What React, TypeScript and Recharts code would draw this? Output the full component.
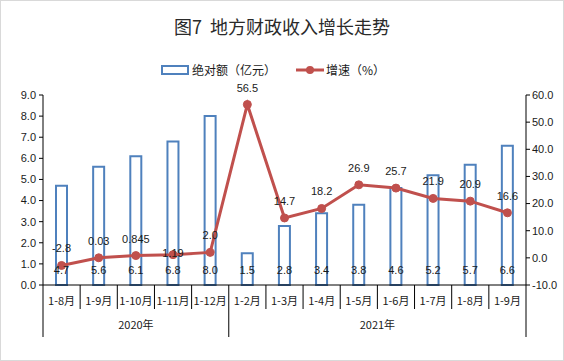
import { ComposedChart, Bar, Line, XAxis, YAxis, LabelList } from "recharts";

const months = ["1-8月", "1-9月", "1-10月", "1-11月", "1-12月", "1-2月", "1-3月", "1-4月", "1-5月", "1-6月", "1-7月", "1-8月", "1-9月"];
const amount = [4.7, 5.6, 6.1, 6.8, 8.0, 1.5, 2.8, 3.4, 3.8, 4.6, 5.2, 5.7, 6.6];
const growth = [-2.8, 0.03, 0.845, 1.19, 2.0, 56.5, 14.7, 18.2, 26.9, 25.7, 21.9, 20.9, 16.6];
const growthLabels = ["-2.8", "0.03", "0.845", "1.19", "2.0", "56.5", "14.7", "18.2", "26.9", "25.7", "21.9", "20.9", "16.6"];
const leftTicks = [0, 1, 2, 3, 4, 5, 6, 7, 8, 9];
const rightTicks = [-10, 0, 10, 20, 30, 40, 50, 60];
const years = ["2020年", "2021年"];

const data = months.map((m, i) => ({ name: `${m}#${i}`, month: m, amount: amount[i], growth: growth[i] }));

const W = 564;
const H = 361;
const LEFT = 43;
const RIGHT = 38;
const BAND = (W - LEFT - RIGHT) / months.length;
const BLUE = "#4F81BD";
const RED = "#C0504D";
const TEXT = "#1a1a1a";
const FONT = "'Liberation Sans', 'Noto Sans CJK SC', sans-serif";
const CJK = "'Noto Sans CJK SC', sans-serif";

const MonthTick = ({ x, y, payload, index }: any) => {
  const i = payload?.index ?? index;
  const left = x - BAND / 2;
  const right = x + BAND / 2;
  return (
    <g>
      <line x1={left} y1={y} x2={left} y2={i === 0 || i === 5 ? y + 52 : y + 24} stroke="#000" />
      {i === months.length - 1 && <line x1={right} y1={y} x2={right} y2={y + 52} stroke="#000" />}
      <text x={x} y={y + 20} textAnchor="middle" fontSize={11} fill={TEXT} fontFamily={CJK}>
        {months[i]}
      </text>
      {i === 2 && (
        <text x={x} y={y + 44} textAnchor="middle" fontSize={11} fill={TEXT} fontFamily={CJK}>
          {years[0]}
        </text>
      )}
      {i === 8 && (
        <text x={right} y={y + 44} textAnchor="middle" fontSize={11} fill={TEXT} fontFamily={CJK}>
          {years[1]}
        </text>
      )}
    </g>
  );
};

const BarValue = ({ x, y, width, height, value }: any) => (
  <text x={x + width / 2} y={y + height - 15} textAnchor="middle" dominantBaseline="central" fontSize={11} fill={TEXT} fontFamily={FONT}>
    {Number(value).toFixed(1)}
  </text>
);

const GrowthValue = ({ x, y, index }: any) => (
  <text x={x} y={index === 3 ? y - 2 : y - 17} textAnchor="middle" dominantBaseline="central" fontSize={11} fill={TEXT} fontFamily={FONT}>
    {growthLabels[index]}
  </text>
);

export default function App() {
  return (
    <div
      style={{
        position: "fixed",
        left: 0,
        top: 0,
        width: W,
        height: H,
        boxSizing: "border-box",
        border: "1px solid #D9D9D9",
        background: "#fff",
        fontFamily: CJK,
      }}
    >
      <div style={{ position: "absolute", top: 12, left: 0, width: W - 2, textAlign: "center", fontSize: 18, color: "#2a2a2a", lineHeight: "26px" }}>
        图7&nbsp;&nbsp;地方财政收入增长走势
      </div>
      <div style={{ position: "absolute", top: 60, left: 160, display: "flex", alignItems: "center", fontSize: 12, color: TEXT, lineHeight: "18px" }}>
        <svg width={28} height={10} style={{ marginRight: 3 }}>
          <rect x={1} y={1} width={26} height={8} fill="#fff" stroke={BLUE} strokeWidth={2} />
        </svg>
        <span>绝对额（亿元）</span>
        <svg width={28} height={10} style={{ marginLeft: 20, marginRight: 2 }}>
          <line x1={0} y1={5} x2={28} y2={5} stroke={RED} strokeWidth={3} />
          <circle cx={14} cy={5} r={4} fill={RED} />
        </svg>
        <span>增速（%）</span>
      </div>
      <div style={{ position: "absolute", left: -1, top: -1 }}>
        <ComposedChart width={W} height={H} data={data} margin={{ top: 95, right: 0, left: 0, bottom: 16 }}>
          <XAxis
            dataKey="name"
            xAxisId={0}
            height={60}
            interval={0}
            tickLine={false}
            tickSize={0}
            tickMargin={0}
            axisLine={{ stroke: "#000" }}
            tick={<MonthTick />}
          />
          <YAxis
            yAxisId="left"
            width={LEFT}
            domain={[0, 9]}
            ticks={leftTicks}
            interval={0}
            tickSize={4}
            tickMargin={3}
            axisLine={{ stroke: "#000" }}
            tickLine={{ stroke: "#000" }}
            tick={{ fontSize: 11, fill: TEXT, fontFamily: FONT }}
            tickFormatter={(v) => Number(v).toFixed(1)}
          />
          <YAxis
            yAxisId="right"
            orientation="right"
            width={RIGHT}
            domain={[-10, 60]}
            ticks={rightTicks}
            interval={0}
            tickSize={4}
            tickMargin={2}
            axisLine={{ stroke: "#000" }}
            tickLine={{ stroke: "#000" }}
            tick={{ fontSize: 11, fill: TEXT, fontFamily: FONT }}
            tickFormatter={(v) => Number(v).toFixed(1)}
          />
          <Bar yAxisId="left" dataKey="amount" barSize={11} fill="#fff" stroke={BLUE} strokeWidth={2} isAnimationActive={false}>
            <LabelList dataKey="amount" content={<BarValue />} />
          </Bar>
          <Line
            yAxisId="right"
            dataKey="growth"
            stroke={RED}
            strokeWidth={3}
            dot={{ r: 4, fill: RED, stroke: RED, strokeWidth: 1 }}
            isAnimationActive={false}
          >
            <LabelList dataKey="growth" content={<GrowthValue />} />
          </Line>
        </ComposedChart>
      </div>
    </div>
  );
}
